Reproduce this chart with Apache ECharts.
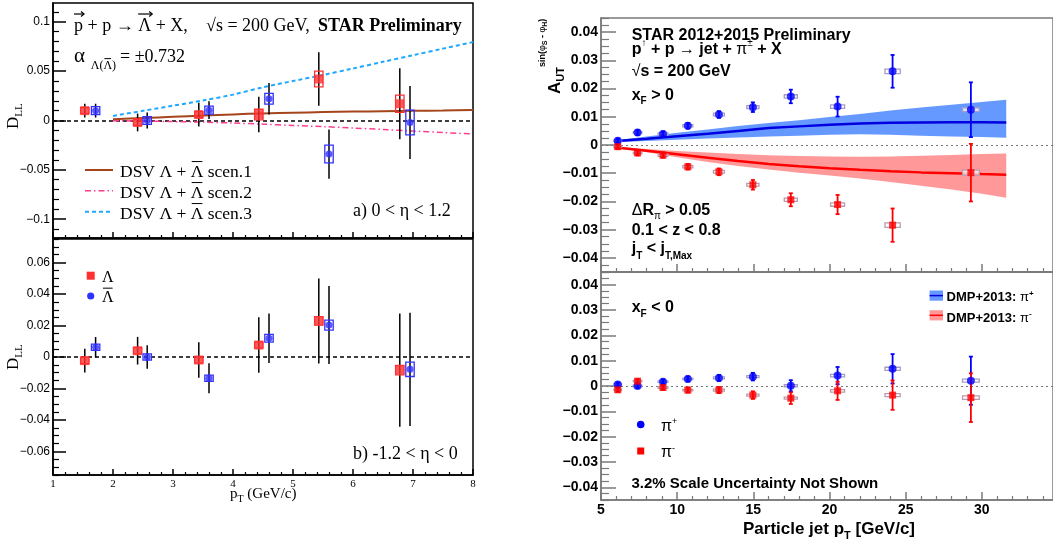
<!DOCTYPE html>
<html>
<head>
<meta charset="utf-8">
<title>Spin asymmetries</title>
<script src="https://cdn.jsdelivr.net/npm/echarts@6.0.0/dist/echarts.min.js"></script>
<style>
html, body { margin: 0; padding: 0; background: #fff; }
#chart { width: 1053px; height: 540px; }
</style>
</head>
<body>
<div id="chart"></div>
<script>
// ---------- Left: Lambda / anti-Lambda spin transfer D_LL vs pT ----------
const lamPt  = [1.53, 2.41, 3.43, 4.43, 5.43, 6.78];
const alamPt = [1.71, 2.57, 3.60, 4.60, 5.60, 6.95];

// a) 0 < eta < 1.2
const lamDllFwd   = [0.010, -0.002, 0.006, 0.006, 0.042, 0.017];
const lamStatFwd  = [0.007, 0.009, 0.012, 0.018, 0.027, 0.036];
const lamSysFwd   = [0.003, 0.003, 0.003, 0.0054, 0.008, 0.0088];
const alamDllFwd  = [0.010, 0.000, 0.0105, 0.022, -0.034, -0.002];
const alamStatFwd = [0.007, 0.008, 0.009, 0.016, 0.025, 0.037];
const alamSysFwd  = [0.004, 0.004, 0.004, 0.0055, 0.009, 0.0125];

// b) -1.2 < eta < 0
const lamDllBwd   = [-0.0023, 0.0040, -0.0019, 0.0076, 0.0229, -0.0083];
const lamStatBwd  = [0.0075, 0.0088, 0.0113, 0.0176, 0.0270, 0.0360];
const lamSysBwd   = [0.002, 0.002, 0.002, 0.002, 0.0027, 0.003];
const alamDllBwd  = [0.0062, 0.0000, -0.0135, 0.0119, 0.0203, -0.0078];
const alamStatBwd = [0.0065, 0.0075, 0.0095, 0.0157, 0.0248, 0.0360];
const alamSysBwd  = [0.002, 0.002, 0.002, 0.0025, 0.0032, 0.0046];
const lamSysHalfWidth = 0.07;

// DSV model expectations
const dsvPt    = [2, 2.5, 3, 3.5, 4, 4.5, 5, 5.5, 6, 6.5, 7, 7.5, 8];
const dsvScen1 = [0.0012, 0.0025, 0.0037, 0.0050, 0.0062, 0.0072, 0.0079, 0.0085, 0.0090, 0.0094, 0.0098, 0.0102, 0.0107];
const dsvScen2 = [-0.0002, -0.0006, -0.0011, -0.0016, -0.0026, -0.0037, -0.0050, -0.0062, -0.0076, -0.0091, -0.0107, -0.0122, -0.0137];
const dsvScen3 = [0.0046, 0.0098, 0.0150, 0.0203, 0.0262, 0.0336, 0.0400, 0.0461, 0.0527, 0.0594, 0.0661, 0.0728, 0.0794];

// ---------- Right: Collins-like asymmetry of pions in jets ----------
const jetPt = [6.1, 7.4, 9.07, 10.7, 12.74, 14.97, 17.46, 20.53, 24.14, 29.28];
const jetBinHalf = [0.25, 0.28, 0.32, 0.33, 0.36, 0.40, 0.43, 0.46, 0.50, 0.55];

// x_F > 0
const piPlusFwd      = [0.0015, 0.0044, 0.0039, 0.0068, 0.0108, 0.0134, 0.0172, 0.0136, 0.0261, 0.0125];
const piPlusFwdErr   = [0.0008, 0.0009, 0.0009, 0.0010, 0.0012, 0.0017, 0.0024, 0.0035, 0.0058, 0.0097];
const piPlusFwdSys   = [0.0003, 0.0003, 0.0004, 0.0004, 0.0005, 0.0005, 0.0006, 0.0006, 0.0008, 0.0007];
const piMinusFwd     = [-0.0006, -0.0028, -0.0036, -0.0077, -0.0095, -0.0141, -0.0194, -0.0211, -0.0284, -0.0098];
const piMinusFwdErr  = [0.0008, 0.0009, 0.0009, 0.0010, 0.0012, 0.0017, 0.0023, 0.0034, 0.0059, 0.0102];
const piMinusFwdSys  = [0.0003, 0.0003, 0.0004, 0.0004, 0.0005, 0.0005, 0.0006, 0.0006, 0.0008, 0.0009];

// x_F < 0
const piPlusBwd      = [0.0006, 0.0000, 0.0017, 0.0028, 0.0032, 0.0037, 0.0001, 0.0041, 0.0068, 0.0021];
const piPlusBwdErr   = [0.0008, 0.0008, 0.0009, 0.0010, 0.0012, 0.0015, 0.0022, 0.0034, 0.0058, 0.0095];
const piPlusBwdSys   = [0.0003, 0.0003, 0.0003, 0.0003, 0.0004, 0.0004, 0.0004, 0.0005, 0.0006, 0.0006];
const piMinusBwd     = [-0.0015, 0.0019, -0.0006, -0.0016, -0.0016, -0.0036, -0.0048, -0.0019, -0.0036, -0.0046];
const piMinusBwdErr  = [0.0008, 0.0008, 0.0009, 0.0010, 0.0012, 0.0015, 0.0023, 0.0036, 0.0058, 0.0096];
const piMinusBwdSys  = [0.0003, 0.0003, 0.0003, 0.0003, 0.0004, 0.0004, 0.0004, 0.0005, 0.0006, 0.0007];

// DMP+2013 model: central value and uncertainty band
const dmpPt        = [5.85, 8, 10, 12, 14, 16, 18, 20, 22, 24, 26, 28, 30, 31.6];
const dmpPlus      = [0.0013, 0.0022, 0.0031, 0.0040, 0.0050, 0.0060, 0.0066, 0.0072, 0.0076, 0.0079, 0.0080, 0.0081, 0.0081, 0.0080];
const dmpPlusHi    = [0.0016, 0.0030, 0.0043, 0.0055, 0.0067, 0.0078, 0.0088, 0.0099, 0.0110, 0.0122, 0.0133, 0.0143, 0.0152, 0.0160];
const dmpPlusLo    = [0.0010, 0.0014, 0.0019, 0.0023, 0.0027, 0.0030, 0.0033, 0.0036, 0.0038, 0.0036, 0.0033, 0.0030, 0.0028, 0.0026];
const dmpMinus     = [-0.0008, -0.0020, -0.0033, -0.0045, -0.0057, -0.0067, -0.0075, -0.0082, -0.0088, -0.0093, -0.0097, -0.0100, -0.0103, -0.0105];
const dmpMinusHi   = [-0.0006, -0.0014, -0.0021, -0.0027, -0.0032, -0.0036, -0.0039, -0.0041, -0.0042, -0.0041, -0.0038, -0.0035, -0.0032, -0.0030];
const dmpMinusLo   = [-0.0010, -0.0026, -0.0043, -0.0060, -0.0074, -0.0087, -0.0098, -0.0108, -0.0119, -0.0131, -0.0144, -0.0158, -0.0173, -0.0187];

// ---------- Axis tick labels ----------
const leftPtTicks  = [1, 2, 3, 4, 5, 6, 7, 8];
const dllTicksFwd  = [-0.1, -0.05, 0, 0.05, 0.1];
const dllTicksBwd  = [-0.06, -0.04, -0.02, 0, 0.02, 0.04, 0.06];
const jetPtTicks   = [5, 10, 15, 20, 25, 30];
const autTicks     = [-0.04, -0.03, -0.02, -0.01, 0, 0.01, 0.02, 0.03, 0.04];

// ---------- styling ----------
const SERIF = "'Liberation Serif', 'Times New Roman', serif";
const SANS = "'Liberation Sans', Arial, sans-serif";
const RED_L = '#ff3030', BLUE_L = '#3030ff';
const RED_R = '#ff0000', BLUE_R = '#0000ff';
const BAND_BLUE = '#6699ff', BAND_RED = '#ff9999';
const GRAY = '#7a7a7a';

const zip = (a, b) => a.map((v, i) => [v, b[i]]);
const fmt = v => (v < 0 ? '\u2212' : '') + String(+Math.abs(v).toFixed(4));

function minorTicks(majors, sub, min, max) {
  const step = (majors[1] - majors[0]) / sub;
  const out = [];
  const start = Math.ceil((min - majors[0]) / step - 1e-9);
  for (let k = start; majors[0] + k * step <= max + 1e-12; k++) {
    const v = +(majors[0] + k * step).toFixed(6);
    if (k % sub !== 0 && v >= min && v <= max) out.push(v);
  }
  return out;
}

function majorAxis(pos, gridIndex, min, max, ticks, len, color, label) {
  return {
    type: 'value', gridIndex, min, max, position: pos,
    axisLine: { show: true, onZero: false, lineStyle: { color, width: 1.5 } },
    axisTick: { show: true, inside: true, length: len, customValues: ticks, lineStyle: { color, width: 1.5 } },
    axisLabel: label ? Object.assign({ show: true, customValues: ticks, formatter: fmt, color: '#000' }, label) : { show: false },
    splitLine: { show: false }, minorTick: { show: false }
  };
}
function minorAxis(pos, gridIndex, min, max, ticks, len, color) {
  return {
    type: 'value', gridIndex, min, max, position: pos,
    axisLine: { show: false, onZero: false },
    axisTick: { show: true, inside: true, length: len, customValues: ticks, lineStyle: { color, width: 1.2 } },
    axisLabel: { show: false }, splitLine: { show: false }
  };
}

// vertical error bars
function errorSeries(ax, pts, vals, errs, color, width, cap, z) {
  return {
    type: 'custom', xAxisIndex: ax, yAxisIndex: ax, z, silent: true,
    data: pts.map((p, i) => [p, vals[i], errs[i]]),
    encode: { x: 0, y: 1 },
    renderItem(params, api) {
      const x = api.value(0), y = api.value(1), e = api.value(2);
      const a = api.coord([x, y + e]), b = api.coord([x, y - e]);
      const st = { stroke: color, lineWidth: width };
      const ch = [{ type: 'line', shape: { x1: a[0], y1: a[1], x2: b[0], y2: b[1] }, style: st }];
      if (cap) {
        ch.push({ type: 'line', shape: { x1: a[0] - cap, y1: a[1], x2: a[0] + cap, y2: a[1] }, style: st });
        ch.push({ type: 'line', shape: { x1: b[0] - cap, y1: b[1], x2: b[0] + cap, y2: b[1] }, style: st });
      }
      return { type: 'group', children: ch };
    }
  };
}
// systematic-uncertainty boxes
function boxSeries(ax, pts, vals, sys, half, stroke, fill, z) {
  return {
    type: 'custom', xAxisIndex: ax, yAxisIndex: ax, z, silent: true,
    data: pts.map((p, i) => [p, vals[i], sys[i], Array.isArray(half) ? half[i] : half]),
    encode: { x: 0, y: 1 },
    renderItem(params, api) {
      const x = api.value(0), y = api.value(1), s = api.value(2), h = api.value(3);
      const a = api.coord([x - h, y + s]), b = api.coord([x + h, y - s]);
      return { type: 'rect', shape: { x: a[0], y: a[1], width: b[0] - a[0], height: b[1] - a[1] },
               style: { stroke, fill, lineWidth: 1.3 } };
    }
  };
}
// model uncertainty band
function bandSeries(ax, xs, lo, hi, color, z) {
  return {
    type: 'custom', xAxisIndex: ax, yAxisIndex: ax, z, silent: true,
    data: [[xs[0], hi[0]]], encode: { x: 0, y: 1 },
    renderItem(params, api) {
      const pts = xs.map((x, i) => api.coord([x, hi[i]]));
      for (let i = xs.length - 1; i >= 0; i--) pts.push(api.coord([xs[i], lo[i]]));
      return { type: 'polygon', shape: { points: pts }, style: { fill: color } };
    }
  };
}
function curve(ax, xs, ys, color, width, type, smooth, z) {
  return { type: 'line', xAxisIndex: ax, yAxisIndex: ax, data: zip(xs, ys), symbol: 'none', showSymbol: false,
           smooth, silent: true, z, lineStyle: { color, width, type } };
}
function points(ax, xs, ys, symbol, size, color, z, zeroLine) {
  const s = { type: 'scatter', xAxisIndex: ax, yAxisIndex: ax, data: zip(xs, ys), symbol, symbolSize: size,
              itemStyle: { color }, z, silent: true };
  if (zeroLine) s.markLine = { silent: true, symbol: 'none', label: { show: false }, z: 1,
                               lineStyle: zeroLine, data: [{ yAxis: 0 }] };
  return s;
}

// ---------- text runs with sub/superscripts, overlines and vector arrows ----------
const mctx = document.createElement('canvas').getContext('2d');
const fontStr = p => (p.bold ? 'bold ' : '') + p.size + 'px ' + p.family;
function measure(p) { mctx.font = fontStr(p); return mctx.measureText(p.t).width; }
function textRun(x, y, items, opts) {
  opts = opts || {};
  const pieces = items.map(p => Object.assign({}, opts.base || {}, p));
  const ws = pieces.map(measure);
  const xs = [];
  let cx = 0;
  pieces.forEach((p, i) => { if (p.at !== undefined) cx = p.at; xs.push(cx); cx += ws[i]; });
  const shift = opts.align === 'center' ? -cx / 2 : opts.align === 'right' ? -cx : 0;
  const kids = [];
  pieces.forEach((p, i) => {
    const px = xs[i] + shift, dy = p.dy || 0, w = ws[i], col = p.color || '#000';
    kids.push({ type: 'text', x: px, y: dy - 0.19 * p.size,
                style: { text: p.t, font: fontStr(p), fill: col, textAlign: 'left', textVerticalAlign: 'middle', verticalAlign: 'middle' } });
    if (p.over) {
      const oy = dy - p.size * 0.74 - 1;
      kids.push({ type: 'line', shape: { x1: px + 1, y1: oy, x2: px + w - 1, y2: oy }, style: { stroke: col, lineWidth: 1 } });
    }
    if (p.vec) {
      const vy = dy - p.vec, x2 = px + w + 1;
      kids.push({ type: 'line', shape: { x1: px, y1: vy, x2: x2, y2: vy }, style: { stroke: col, lineWidth: 1.2 } });
      kids.push({ type: 'polyline', shape: { points: [[x2 - 3, vy - 2.5], [x2, vy], [x2 - 3, vy + 2.5]] }, style: { stroke: col, lineWidth: 1.2, fill: null } });
    }
  });
  return { type: 'group', x, y, rotation: opts.rotation || 0, silent: true, z: 100, children: kids };
}

// ---------- axes ----------
const L_YMIN_A = -0.119, L_YMAX_A = 0.119, L_YMIN_B = -0.075, L_YMAX_B = 0.075;
const R_Y = 0.045, R_XMIN = 5, R_XMAX = 34.67;

const leftXLabel = { fontFamily: SERIF, fontSize: 11, margin: 4 };
const leftYLabel = { fontFamily: SANS, fontSize: 12, margin: 3 };
const rightLabel = { fontFamily: SANS, fontSize: 14, fontWeight: 'bold', margin: 3 };

const xAxis = [
  majorAxis('bottom', 0, 1, 8, leftPtTicks, 6, '#000', null),
  minorAxis('bottom', 0, 1, 8, minorTicks(leftPtTicks, 5, 1, 8), 3, '#000'),
  majorAxis('bottom', 1, 1, 8, leftPtTicks, 6, '#000', leftXLabel),
  minorAxis('bottom', 1, 1, 8, minorTicks(leftPtTicks, 5, 1, 8), 3, '#000'),
  majorAxis('bottom', 2, R_XMIN, R_XMAX, jetPtTicks, 8, GRAY, null),
  minorAxis('bottom', 2, R_XMIN, R_XMAX, minorTicks(jetPtTicks, 5, R_XMIN, R_XMAX), 4, GRAY),
  majorAxis('bottom', 3, R_XMIN, R_XMAX, jetPtTicks, 8, GRAY, rightLabel),
  minorAxis('bottom', 3, R_XMIN, R_XMAX, minorTicks(jetPtTicks, 5, R_XMIN, R_XMAX), 4, GRAY)
];
const yAxis = [
  majorAxis('left', 0, L_YMIN_A, L_YMAX_A, dllTicksFwd, 13, '#000', leftYLabel),
  minorAxis('left', 0, L_YMIN_A, L_YMAX_A, minorTicks(dllTicksFwd, 5, L_YMIN_A, L_YMAX_A), 6, '#000'),
  majorAxis('left', 1, L_YMIN_B, L_YMAX_B, dllTicksBwd, 13, '#000', leftYLabel),
  minorAxis('left', 1, L_YMIN_B, L_YMAX_B, minorTicks(dllTicksBwd, 4, L_YMIN_B, L_YMAX_B), 6, '#000'),
  majorAxis('left', 2, -R_Y, R_Y, autTicks, 15, GRAY, rightLabel),
  minorAxis('left', 2, -R_Y, R_Y, minorTicks(autTicks, 4, -R_Y, R_Y), 8, GRAY),
  majorAxis('left', 3, -R_Y, R_Y, autTicks, 15, GRAY, rightLabel),
  minorAxis('left', 3, -R_Y, R_Y, minorTicks(autTicks, 4, -R_Y, R_Y), 8, GRAY)
];

// axis index pairs: 0 = left a), 2 = left b), 4 = right x_F>0, 6 = right x_F<0
const BLACK_DASH = { color: '#000', width: 1.5, type: [4, 3] };
const GRAY_DOT = { color: '#777', width: 1.2, type: [2, 3] };

const series = [
  // a) 0 < eta < 1.2
  curve(0, dsvPt, dsvScen1, '#a5451b', 2, 'solid', 0.3, 2),
  curve(0, dsvPt, dsvScen2, '#ff3d8f', 1.5, [6, 3, 1.5, 3], 0.3, 2),
  curve(0, dsvPt, dsvScen3, '#1fa8ff', 2, [4, 3], 0.3, 2),
  errorSeries(0, lamPt, lamDllFwd, lamStatFwd, '#000', 1.5, 0, 3),
  errorSeries(0, alamPt, alamDllFwd, alamStatFwd, '#000', 1.5, 0, 3),
  points(0, lamPt, lamDllFwd, 'rect', 9, RED_L, 4, BLACK_DASH),
  points(0, alamPt, alamDllFwd, 'circle', 7, BLUE_L, 4),
  boxSeries(0, lamPt, lamDllFwd, lamSysFwd, lamSysHalfWidth, RED_L, 'none', 5),
  boxSeries(0, alamPt, alamDllFwd, alamSysFwd, lamSysHalfWidth, BLUE_L, 'none', 5),
  // b) -1.2 < eta < 0
  errorSeries(2, lamPt, lamDllBwd, lamStatBwd, '#000', 1.5, 0, 3),
  errorSeries(2, alamPt, alamDllBwd, alamStatBwd, '#000', 1.5, 0, 3),
  points(2, lamPt, lamDllBwd, 'rect', 9, RED_L, 4, BLACK_DASH),
  points(2, alamPt, alamDllBwd, 'circle', 7, BLUE_L, 4),
  boxSeries(2, lamPt, lamDllBwd, lamSysBwd, lamSysHalfWidth, RED_L, 'none', 5),
  boxSeries(2, alamPt, alamDllBwd, alamSysBwd, lamSysHalfWidth, BLUE_L, 'none', 5),
  // x_F > 0
  bandSeries(4, dmpPt, dmpPlusLo, dmpPlusHi, BAND_BLUE, 1),
  bandSeries(4, dmpPt, dmpMinusLo, dmpMinusHi, BAND_RED, 1),
  curve(4, dmpPt, dmpPlus, '#0000e0', 2.5, 'solid', false, 2),
  curve(4, dmpPt, dmpMinus, '#ff0000', 2.5, 'solid', false, 2),
  boxSeries(4, jetPt, piPlusFwd, piPlusFwdSys, jetBinHalf, '#a59cc4', 'rgba(255,255,255,0.75)', 3),
  boxSeries(4, jetPt, piMinusFwd, piMinusFwdSys, jetBinHalf, '#b89cb0', 'rgba(255,255,255,0.75)', 3),
  errorSeries(4, jetPt, piPlusFwd, piPlusFwdErr, BLUE_R, 1.8, 2, 4),
  errorSeries(4, jetPt, piMinusFwd, piMinusFwdErr, RED_R, 1.8, 2, 4),
  points(4, jetPt, piPlusFwd, 'circle', 8, BLUE_R, 5, GRAY_DOT),
  points(4, jetPt, piMinusFwd, 'rect', 7, RED_R, 5),
  // x_F < 0
  boxSeries(6, jetPt, piPlusBwd, piPlusBwdSys, jetBinHalf, '#a59cc4', 'rgba(255,255,255,0.75)', 3),
  boxSeries(6, jetPt, piMinusBwd, piMinusBwdSys, jetBinHalf, '#b89cb0', 'rgba(255,255,255,0.75)', 3),
  errorSeries(6, jetPt, piPlusBwd, piPlusBwdErr, BLUE_R, 1.8, 2, 4),
  errorSeries(6, jetPt, piMinusBwd, piMinusBwdErr, RED_R, 1.8, 2, 4),
  points(6, jetPt, piPlusBwd, 'circle', 8, BLUE_R, 5, GRAY_DOT),
  points(6, jetPt, piMinusBwd, 'rect', 7, RED_R, 5)
];

// ---------- annotations ----------
const S17 = { family: SERIF, size: 17.5 };
const S18 = { family: SERIF, size: 18 };
const B16 = { family: SANS, size: 16, bold: true };
const ov = (t, extra) => Object.assign({ t, over: true }, extra || {});

const graphic = [
  // left panel a)
  textRun(74, 30, [
    { t: 'p', vec: 16 }, { t: ' + p ' }, { t: '\u2192' }, { t: ' ' }, { t: '\u039B', vec: 16 }, { t: ' + X,' },
    { t: '\u221As = 200 GeV,', at: 132 }, { t: 'STAR Preliminary', at: 244, bold: true }
  ], { base: S18 }),
  textRun(74, 60.5, [
    { t: '\u03B1', size: 21 },
    { t: '\u039B(', size: 12, dy: 8, at: 16.7 }, ov('\u039B', { size: 12, dy: 8 }), { t: ')', size: 12, dy: 8 },
    { t: '= \u00B10.732', at: 46 }
  ], { base: S18 }),
  { type: 'line', z: 100, shape: { x1: 85, y1: 170, x2: 113, y2: 170 }, style: { stroke: '#a5451b', lineWidth: 2 } },
  { type: 'line', z: 100, shape: { x1: 85, y1: 190.7, x2: 113, y2: 190.7 }, style: { stroke: '#ff3d8f', lineWidth: 1.5, lineDash: [6, 3, 1.5, 3] } },
  { type: 'line', z: 100, shape: { x1: 85, y1: 211.7, x2: 113, y2: 211.7 }, style: { stroke: '#1fa8ff', lineWidth: 2, lineDash: [4, 3] } },
  textRun(120, 175.5, [{ t: 'DSV \u039B + ' }, ov('\u039B'), { t: ' scen.1' }], { base: S17 }),
  textRun(120, 196.5, [{ t: 'DSV \u039B + ' }, ov('\u039B'), { t: ' scen.2' }], { base: S17 }),
  textRun(120, 217.5, [{ t: 'DSV \u039B + ' }, ov('\u039B'), { t: ' scen.3' }], { base: S17 }),
  textRun(353, 215, [{ t: 'a) 0 < \u03B7 < 1.2' }], { base: S18 }),
  textRun(17, 129, [{ t: 'D', size: 17 }, { t: 'LL', size: 11, dy: 4 }], { base: { family: SERIF }, rotation: Math.PI / 2 }),
  // left panel b)
  { type: 'rect', z: 100, shape: { x: 86.7, y: 271.7, width: 8, height: 8 }, style: { fill: RED_L } },
  { type: 'circle', z: 100, shape: { cx: 90.7, cy: 296, r: 3.6 }, style: { fill: BLUE_L } },
  textRun(102, 280.5, [{ t: '\u039B' }], { base: { family: SERIF, size: 16 } }),
  textRun(102, 301, [ov('\u039B')], { base: { family: SERIF, size: 16 } }),
  textRun(353, 458, [{ t: 'b) -1.2 < \u03B7 < 0' }], { base: S18 }),
  textRun(17, 370, [{ t: 'D', size: 17 }, { t: 'LL', size: 11, dy: 4 }], { base: { family: SERIF }, rotation: Math.PI / 2 }),
  textRun(230, 497.3, [{ t: 'p', size: 15 }, { t: 'T', size: 10, dy: 4 }, { t: ' (GeV/c)', size: 15 }], { base: { family: SERIF } }),
  // right panel x_F > 0
  textRun(631.7, 38.3, [{ t: 'STAR 2012+2015 Preliminary' }], { base: B16 }),
  textRun(631.7, 52.3, [
    { t: 'p' }, { t: '\u2191', size: 10, dy: -7, bold: false }, { t: ' + p ' }, { t: '\u2192', bold: false },
    { t: ' jet + ' }, { t: '\u03C0', bold: false }, { t: '\u00B1', size: 10, dy: -7, bold: false }, { t: ' + X' }
  ], { base: B16 }),
  textRun(631.7, 75, [{ t: '\u221A', bold: false }, { t: 's = 200 GeV' }], { base: B16 }),
  textRun(631.7, 98.3, [{ t: 'x' }, { t: 'F', size: 10, dy: 5 }, { t: ' > 0' }], { base: B16 }),
  textRun(631.7, 214, [{ t: '\u0394', bold: false }, { t: 'R' }, { t: '\u03C0', size: 10, dy: 4, bold: false }, { t: ' > 0.05' }], { base: B16 }),
  textRun(631.7, 233.7, [{ t: '0.1 < z < 0.8' }], { base: B16 }),
  textRun(631.7, 251.7, [{ t: 'j' }, { t: 'T', size: 10, dy: 6 }, { t: ' < j' }, { t: 'T,Max', size: 10, dy: 6 }], { base: B16 }),
  textRun(559, 18.7, [
    { t: 'A', size: 17 }, { t: 'UT', size: 11, dy: 4 },
    { t: 'sin(', size: 9, dy: -15 }, { t: '\u03C6', size: 9, dy: -15, bold: false }, { t: 'S', size: 7, dy: -12.5 },
    { t: ' - ', size: 9, dy: -15 }, { t: '\u03C6', size: 9, dy: -15, bold: false }, { t: 'H', size: 7, dy: -12.5 },
    { t: ')', size: 9, dy: -15 }
  ], { base: { family: SANS, bold: true }, rotation: Math.PI / 2, align: 'right' }),
  // right panel x_F < 0
  textRun(631.7, 311, [{ t: 'x' }, { t: 'F', size: 10, dy: 5 }, { t: ' < 0' }], { base: B16 }),
  { type: 'rect', z: 100, shape: { x: 929.6, y: 290.5, width: 13.4, height: 10.2 }, style: { fill: BAND_BLUE } },
  { type: 'line', z: 101, shape: { x1: 929.6, y1: 295.6, x2: 943, y2: 295.6 }, style: { stroke: '#0000e0', lineWidth: 1.5 } },
  { type: 'rect', z: 100, shape: { x: 929.6, y: 310.2, width: 13.4, height: 10.2 }, style: { fill: BAND_RED } },
  { type: 'line', z: 101, shape: { x1: 929.6, y1: 315.3, x2: 943, y2: 315.3 }, style: { stroke: '#ff0000', lineWidth: 1.5 } },
  textRun(946.6, 300, [{ t: 'DMP+2013: ' }, { t: '\u03C0', bold: false }, { t: '+', size: 8, dy: -5 }], { base: { family: SANS, size: 13, bold: true } }),
  textRun(946.6, 320.4, [{ t: 'DMP+2013: ' }, { t: '\u03C0', bold: false }, { t: '-', size: 8, dy: -5 }], { base: { family: SANS, size: 13, bold: true } }),
  { type: 'circle', z: 100, shape: { cx: 640.7, cy: 424.5, r: 3.8 }, style: { fill: BLUE_R } },
  { type: 'rect', z: 100, shape: { x: 637.2, y: 447.5, width: 7, height: 7 }, style: { fill: RED_R } },
  textRun(661, 429.5, [{ t: '\u03C0' }, { t: '+', size: 9, dy: -6 }], { base: { family: SANS, size: 16 } }),
  textRun(661, 456, [{ t: '\u03C0' }, { t: '-', size: 9, dy: -6 }], { base: { family: SANS, size: 16 } }),
  textRun(631.5, 486.7, [{ t: '3.2% Scale Uncertainty Not Shown' }], { base: { family: SANS, size: 15, bold: true } }),
  textRun(829, 532.6, [{ t: 'Particle jet p' }, { t: 'T', size: 11, dy: 5 }, { t: ' [GeV/c]' }],
          { base: { family: SANS, size: 17, bold: true }, align: 'center' })
];

const chart = echarts.init(document.getElementById('chart'), null, { renderer: 'canvas', width: 1053, height: 540 });
chart.setOption({
  animation: false,
  backgroundColor: '#fff',
  grid: [
    { left: 53, top: 3, width: 420, height: 235, show: true, borderColor: '#000', borderWidth: 1.5, backgroundColor: 'transparent' },
    { left: 53, top: 239, width: 420, height: 236, show: true, borderColor: '#000', borderWidth: 1.5, backgroundColor: 'transparent' },
    { left: 601, top: 18, width: 453, height: 254, show: true, borderColor: GRAY, borderWidth: 1.5, backgroundColor: 'transparent' },
    { left: 601, top: 272, width: 453, height: 228, show: true, borderColor: GRAY, borderWidth: 1.5, backgroundColor: 'transparent' }
  ],
  xAxis,
  yAxis,
  series,
  graphic
});
</script>
</body>
</html>
